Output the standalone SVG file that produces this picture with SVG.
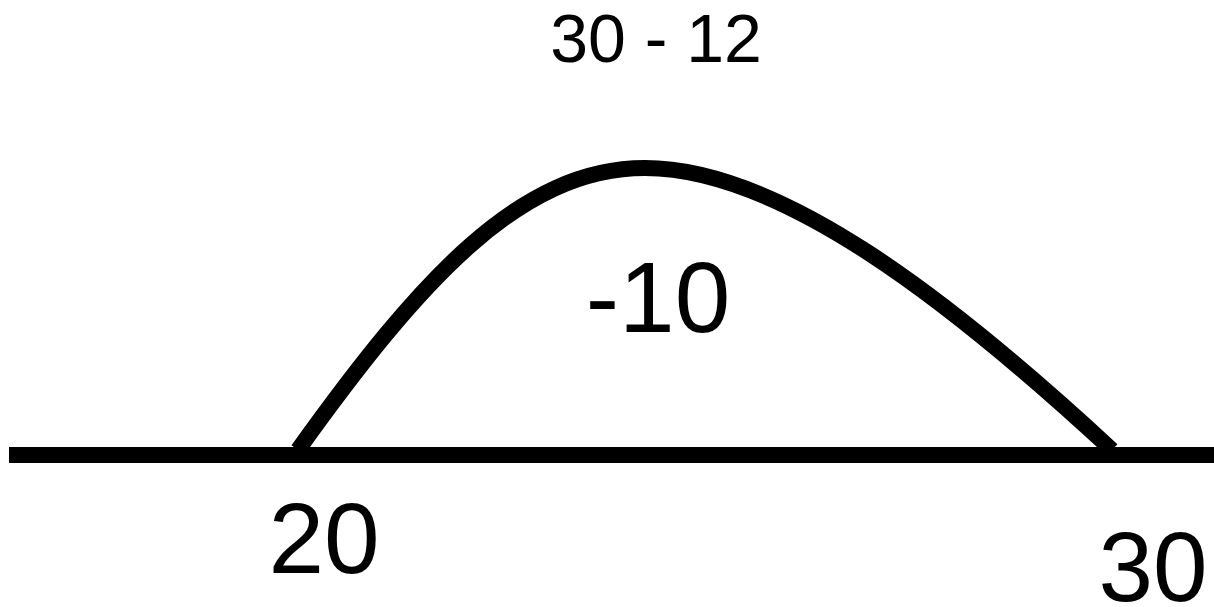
<svg xmlns="http://www.w3.org/2000/svg" width="1214" height="607" viewBox="0 0 1214 607">
<style>
.t{font-family:"Liberation Sans",Arial,sans-serif;fill:#000;text-anchor:middle}
.ln{fill:none;stroke:#000;stroke-width:16}
</style>
<rect width="1214" height="607" fill="#fff"/>
<g id="shapes">
<line class="ln" x1="9" y1="455" x2="1214" y2="455"/>
<path class="ln" d="M 298 450 C 420 280, 520 168, 645 168 C 780 168, 950 300, 1112 450"/>
</g>
<g id="labels">
<text class="t" x="656" y="62" font-size="68">30 - 12</text>
<text class="t" x="658" y="332" font-size="100">-10</text>
<text class="t" x="324" y="573" font-size="100">20</text>
<text class="t" x="1153" y="601" font-size="98">30</text>
</g>
</svg>
